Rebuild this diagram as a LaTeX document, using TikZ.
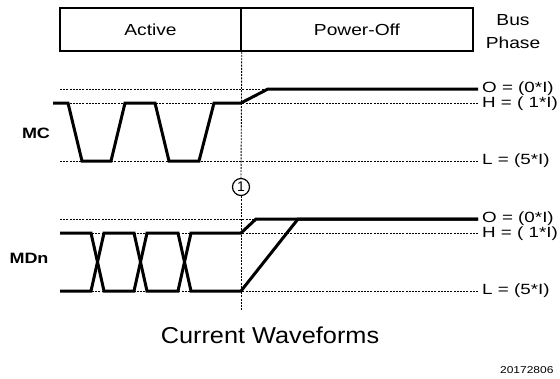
\documentclass[tikz,border=0pt]{standalone}
\usepackage{fontspec}
\setmainfont{Liberation Sans}
\usepackage{graphicx}
\usetikzlibrary{positioning}
\newcommand{\wtext}[2][1.2]{\scalebox{#1}[1]{#2}}

\begin{document}
\begin{tikzpicture}[x=1pt,y=-1pt,
    level/.style={line width=0.9pt,dash pattern=on 2pt off 1.2pt},
    wave/.style={line width=3pt},
    lbl/.style={font=\fontsize{16}{19}\selectfont,inner sep=0pt},
    phasebox/.style={lbl,draw,line width=1.5pt,minimum height=43pt},
    levlbl/.style={font=\fontsize{14.8}{17}\selectfont,inner sep=0pt,anchor=west}]
    \useasboundingbox (0,0) rectangle (560,378);
% phase boxes
    \node[phasebox,minimum width=181pt] (active) at (150.5,29.5) {\wtext{Active}};
    \node[phasebox,minimum width=232pt] (off) at (357,29.5) {\wtext{Power-Off}};
    \node[lbl,align=center,font=\fontsize{16}{23}\selectfont] (bus) at (513,31.5)
        {\wtext{Bus}\\\wtext{Phase}};
% levels
    \foreach \b/\n in {89/mc,219/md} {
        \foreach \y in {\b,\b+14,\b+72}
            \draw[level] (60,\y) -- (478,\y);
        \node[levlbl] (\n o) at (482,\b-0.6) {\wtext[1.27]{O = (0*I)}};
        \node[levlbl] (\n h) at (482,\b+14.6) {\wtext[1.27]{H = ( 1*I)}};
        \node[levlbl] (\n l) at (482,\b+72) {\wtext[1.27]{L = (5*I)}};
    }
% marker
    \node[circle,draw,fill=white,line width=1.2pt,minimum size=17pt,inner sep=0pt,
        font=\fontsize{14}{14}\selectfont] (one) at (241,187) {1};
    \coordinate (vend) at (241,310);
    \draw[level] (active.south east) -- (one.north);
    \draw[level] (one.south) -- (vend);
% MC
    \node[font=\bfseries\fontsize{15}{18}\selectfont] (mc) at (36,133) {\wtext{MC}};
    \draw[wave] (53,103) -- (68,103) -- (82,161) -- (111,161) -- (125,103)
        -- (155,103) -- (169,161) -- (199,161) -- (214,103) -- (241,103)
        -- (268,89) -- (478,89);
% MDn
    \node[font=\bfseries\fontsize{15}{18}\selectfont] (md) at (29,258) {\wtext{MDn}};
    \draw[wave] (60,233) -- (91,233) -- (104,291) -- (134,291) -- (147,233)
        -- (178,233) -- (191,291) -- (241,291) -- (298,219) -- (478,219);
    \draw[wave] (60,291) -- (91,291) -- (104,233) -- (134,233) -- (147,291)
        -- (178,291) -- (191,233) -- (241,233) -- (256,219) -- (478,219);
%
    \node[font=\fontsize{23}{26}\selectfont] (title) at (270,335)
        {\wtext[1.1]{Current Waveforms}};
    \node[font=\fontsize{10}{12}\selectfont,anchor=east] (fig) at (557,370)
        {\wtext{20172806}};
\end{tikzpicture}
\end{document}
